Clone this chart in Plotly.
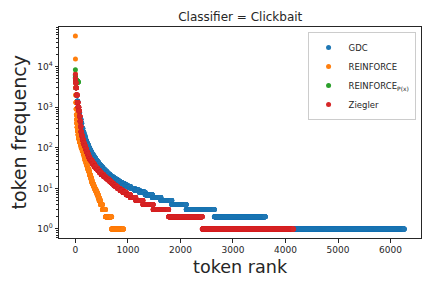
import numpy as np
import plotly.graph_objects as go

# Rank-frequency data as run-length encoded (frequency level, number of tokens)
gdc_freq = [6000, 5000, 3000, 2000, 1400, 1000, 750, 500, 400, 300, 240, 200, 175, 150, 130, 115, 100,
            90, 80, 70, 63, 56, 50, 45, 40, 36, 33, 30, 28, 26, 24, 22, 20, 19, 18, 17, 16, 15, 14, 13,
            12, 11, 10, 9, 8, 7, 6, 5, 4, 3, 2, 1]
gdc_count = [1, 3, 12, 15, 15, 17, 18, 25, 15, 21, 19, 20, 15, 18, 17, 20, 20,
             17, 21, 25, 21, 26, 26, 26, 31, 29, 26, 30, 23, 25, 29, 33, 39, 24, 26, 30, 33, 37, 42, 47,
             55, 63, 75, 90, 109, 137, 162, 208, 275, 535, 970, 2645]

reinforce_freq = [57000, 15400, 6600, 4500, 3000, 2000, 1300, 900, 650, 500, 400, 320, 260, 210, 170,
                  140, 120, 100, 85, 70, 60, 50, 42, 36, 30, 26, 22, 20, 18, 16, 14, 13, 12, 11, 10,
                  9, 8, 7, 6, 5, 4, 3, 2, 1]
reinforce_count = [1, 1, 1, 2, 3, 3, 4, 4, 4, 5, 6, 8, 10, 11, 15,
                   18, 15, 20, 20, 17, 15, 20, 17, 17, 19, 13, 14, 10, 10, 12, 14, 11, 12, 13, 14,
                   19, 17, 20, 18, 27, 35, 58, 118, 224]

reinforce_px_freq = [8400, 5500, 5000, 4700, 4500, 4400, 4300, 4200]
reinforce_px_count = [1, 2, 4, 8, 10, 10, 10, 10]

ziegler_freq = [6500, 5000, 4000, 3000, 2000, 1300, 1000, 800, 600, 450, 335, 250, 200, 160, 130, 110,
                95, 80, 70, 61, 53, 47, 41, 35, 31, 28, 25, 22, 20, 19, 18, 17, 16, 15, 14, 13, 12,
                11, 10, 9, 8, 7, 6, 5, 4, 3, 2, 1]
ziegler_count = [1, 4, 8, 10, 13, 15, 15, 13, 10, 9, 8, 13, 14, 18, 20, 20,
                 17, 21, 17, 20, 30, 27, 33, 35, 35, 30, 35, 45, 30, 15, 20, 25, 25, 25, 26, 30, 34,
                 39, 45, 53, 65, 80, 102, 136, 195, 295, 640, 1735]

series = [
    ("GDC", gdc_freq, gdc_count, "#1f77b4"),
    ("REINFORCE", reinforce_freq, reinforce_count, "#ff7f0e"),
    ("REINFORCE<sub>P(x)</sub>", reinforce_px_freq, reinforce_px_count, "#2ca02c"),
    ("Ziegler", ziegler_freq, ziegler_count, "#d62728"),
]

x_ticks = [0, 1000, 2000, 3000, 4000, 5000, 6000]
y_ticks = [1, 10, 100, 1000, 10000]
y_ticktext = ["10<sup>0</sup>", "10<sup>1</sup>", "10<sup>2</sup>", "10<sup>3</sup>", "10<sup>4</sup>"]

fig = go.Figure()
for name, freq, count, color in series:
    y = np.repeat(np.array(freq, dtype=float), count)
    x = np.arange(len(y))
    fig.add_trace(go.Scatter(x=x, y=y, mode="markers", name=name,
                             marker=dict(size=5, color=color, line=dict(width=0))))

FONT = "DejaVu Sans"
DARK = "#262626"
# page body has an 8px margin: figure drawn at offset (8, 8)
W, H = 416, 272
L, R, T, B = 51, 2.5, 19.3, 41.7
PW, PH = W - L - R, H - T - B
fig.update_layout(
    template="none",
    width=W, height=H,
    margin=dict(l=L, r=R, t=T, b=B, autoexpand=False),
    paper_bgcolor="white", plot_bgcolor="white",
    font=dict(family=FONT, color=DARK),
    title=dict(text="Classifier = Clickbait", x=(L + PW / 2) / W, xanchor="center",
               y=1 - 8.7 / H, yanchor="middle", font=dict(size=12, color=DARK)),
    showlegend=True,
    legend=dict(x=0.985, y=0.976, xanchor="right", yanchor="top",
                bordercolor="#cccccc", borderwidth=1, bgcolor="rgba(255,255,255,0.8)",
                font=dict(size=8.5, color=DARK), itemsizing="trace"),
)
fig.update_xaxes(range=[-312, 6580], tickvals=x_ticks, ticks="outside", ticklen=3.5,
                 tickcolor=DARK, tickfont=dict(size=9, color=DARK), showgrid=False, zeroline=False,
                 showline=True, linecolor=DARK, linewidth=1, mirror=True, automargin=False)
fig.update_yaxes(type="log", range=[-0.222, 4.975], tickvals=y_ticks, ticktext=y_ticktext,
                 ticks="outside", ticklen=3.5, tickcolor=DARK, tickfont=dict(size=9, color=DARK),
                 showgrid=False, zeroline=False, showline=True, linecolor=DARK, linewidth=1, mirror=True,
                 automargin=False,
                 minor=dict(ticks="outside", ticklen=2, tickcolor=DARK, dtick="D1", showgrid=False))

fig.add_annotation(text="token rank", xref="paper", yref="paper", x=0.5, y=-(267 - 238.3) / PH,
                   xanchor="center", yanchor="middle", showarrow=False, font=dict(size=17.6, color=DARK))
fig.add_annotation(text="token frequency", xref="paper", yref="paper", x=-(59 - 18) / PW, y=0.5,
                   xanchor="center", yanchor="middle", textangle=-90, showarrow=False,
                   font=dict(size=19, color=DARK))

fig.write_html("out.html")
